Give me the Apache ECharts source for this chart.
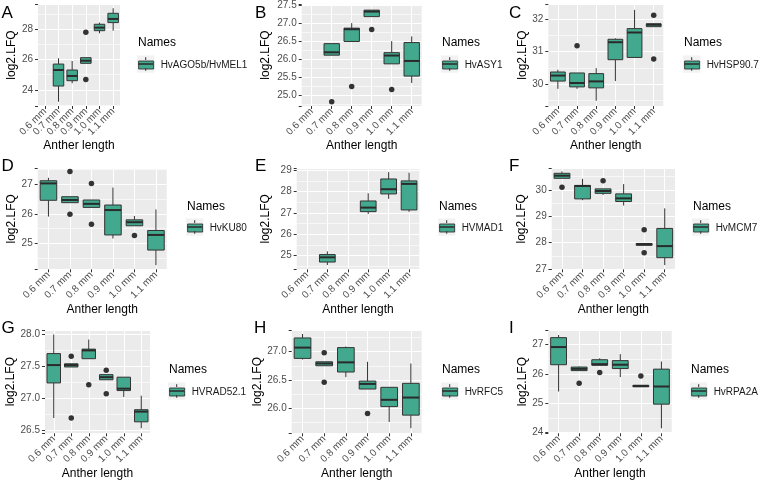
<!DOCTYPE html>
<html>
<head>
<meta charset="utf-8">
<script src="https://cdn.jsdelivr.net/npm/echarts@6/dist/echarts.min.js"></script>
<style>
  html, body { margin: 0; padding: 0; background: #fff; }
  #main { width: 763px; height: 483px; }
</style>
</head>
<body>
<div id="main"></div>
<script>
var categories = ['0.6 mm', '0.7 mm', '0.8 mm', '0.9 mm', '1.0 mm', '1.1 mm'];
var genes = ['HvAGO5b/HvMEL1', 'HvASY1', 'HvHSP90.7', 'HvKU80', 'HVMAD1', 'HvMCM7', 'HVRAD52.1', 'HvRFC5', 'HvRPA2A'];

// box stats: [category index, lower whisker, Q1, median, Q3, upper whisker]
var boxA = [[1, 23.23, 24.26, 25.31, 25.70, 26.08], [2, 24.44, 24.61, 24.92, 25.31, 25.90], [3, 25.75, 25.75, 25.92, 26.12, 26.12], [4, 27.72, 27.89, 28.09, 28.31, 28.42], [5, 27.89, 28.42, 28.66, 29.03, 29.36]];
var outA = [[3, 27.78], [3, 24.68]];
var boxB = [[1, 26.12, 26.12, 26.20, 26.44, 26.44], [2, 26.50, 26.50, 26.84, 26.87, 27.01], [3, 27.19, 27.19, 27.33, 27.37, 27.37], [4, 25.88, 25.88, 26.11, 26.19, 26.51], [5, 25.35, 25.54, 25.96, 26.47, 26.64]];
var outB = [[1, 24.83], [2, 25.25], [3, 26.83], [4, 25.17]];
var boxC = [[0, 29.85, 30.09, 30.26, 30.37, 30.44], [1, 29.85, 29.91, 30.03, 30.34, 30.34], [2, 29.48, 29.88, 30.08, 30.32, 30.49], [3, 30.09, 30.75, 31.29, 31.38, 31.41], [4, 30.82, 30.82, 31.59, 31.71, 32.29], [5, 31.77, 31.77, 31.83, 31.86, 31.86]];
var outC = [[1, 31.18], [5, 32.12], [5, 30.77]];
var boxD = [[0, 25.91, 26.46, 27.03, 27.12, 27.22], [1, 26.38, 26.38, 26.47, 26.58, 26.58], [2, 26.22, 26.22, 26.34, 26.47, 26.47], [3, 25.17, 25.29, 26.13, 26.30, 26.89], [4, 25.60, 25.60, 25.72, 25.80, 25.93], [5, 24.27, 24.78, 25.29, 25.44, 26.15]];
var outD = [[1, 27.43], [1, 25.99], [2, 27.03], [2, 25.65], [4, 25.27]];
var boxE = [[1, 24.56, 24.70, 24.92, 25.05, 25.20], [3, 26.95, 27.06, 27.25, 27.56, 27.92], [4, 27.66, 27.89, 28.11, 28.59, 28.91], [5, 27.05, 27.14, 28.36, 28.50, 28.88]];
var outE = [];
var boxF = [[0, 30.44, 30.44, 30.54, 30.63, 30.70], [1, 29.61, 29.66, 30.15, 30.17, 30.42], [2, 29.81, 29.87, 29.96, 30.04, 30.04], [3, 29.41, 29.56, 29.68, 29.85, 30.22], [4, 27.90, 27.90, 27.94, 27.97, 27.97], [5, 27.15, 27.43, 27.87, 28.54, 29.30]];
var outF = [[0, 30.10], [2, 30.35], [4, 28.49], [4, 27.62]];
var boxG = [[0, 26.69, 27.24, 27.52, 27.70, 28.00], [1, 27.49, 27.49, 27.52, 27.54, 27.54], [2, 27.62, 27.62, 27.75, 27.77, 27.92], [3, 27.29, 27.29, 27.33, 27.37, 27.37], [4, 27.02, 27.12, 27.15, 27.33, 27.33], [5, 26.53, 26.63, 26.79, 26.82, 27.04]];
var outG = [[1, 27.66], [1, 26.69], [2, 27.21], [3, 27.44], [3, 27.07]];
var boxH = [[0, 26.86, 26.88, 27.07, 27.24, 27.31], [1, 26.75, 26.75, 26.79, 26.82, 26.82], [2, 26.55, 26.64, 26.81, 27.07, 27.09], [3, 26.34, 26.34, 26.43, 26.48, 26.82], [4, 25.76, 26.03, 26.15, 26.37, 26.37], [5, 25.65, 25.88, 26.19, 26.44, 26.79]];
var outH = [[1, 26.98], [1, 26.46], [3, 25.91]];
var boxI = [[0, 25.40, 26.31, 26.91, 27.23, 27.32], [1, 26.11, 26.11, 26.17, 26.23, 26.25], [2, 26.29, 26.29, 26.33, 26.48, 26.53], [3, 25.89, 26.18, 26.31, 26.45, 26.67], [4, 25.56, 25.56, 25.59, 25.61, 25.61], [5, 24.15, 24.97, 25.57, 26.16, 26.42]];
var outI = [[1, 25.68], [2, 26.05], [4, 25.93]];

// y tick labels of each panel
var ticksA = [24, 26, 28];
var ticksB = [25.0, 25.5, 26.0, 26.5, 27.0, 27.5];
var ticksC = [30, 31, 32];
var ticksD = [25, 26, 27];
var ticksE = [25, 26, 27, 28, 29];
var ticksF = [27, 28, 29, 30];
var ticksG = [26.5, 27.0, 27.5, 28.0];
var ticksH = [26.0, 26.5, 27.0];
var ticksI = [24, 25, 26, 27];

var FONT = '"Liberation Sans", Arial, sans-serif';
var TEAL = '#43a98e';
var DARK = '#333333';

// layout of each panel (grid box, y range, label gaps, legend spot)
var panels = [
  {letter: 'A', box: boxA, out: outA, ticks: ticksA, dec: 0, min: 22.95, max: 29.64, split: 3, g: [38, 4, 82, 102], gap: 19, lx: 1.5, kx: 137, row: 0},
  {letter: 'B', box: boxB, out: outB, ticks: ticksB, dec: 1, min: 24.71, max: 27.54, split: 6, g: [301.7, 4, 120, 102], gap: 30, lx: 255, kx: 441, row: 0},
  {letter: 'C', box: boxC, out: outC, ticks: ticksC, dec: 0, min: 29.32, max: 32.47, split: 3, g: [548.3, 4, 115, 102], gap: 20, lx: 509, kx: 683, row: 0},
  {letter: 'D', box: boxD, out: outD, ticks: ticksD, dec: 0, min: 24.13, max: 27.54, split: 3, g: [37.7, 168.3, 129, 101], gap: 20, lx: 1.5, kx: 186, row: 1},
  {letter: 'E', box: boxE, out: outE, ticks: ticksE, dec: 0, min: 24.36, max: 29.09, split: 4, g: [296.7, 168.3, 122.6, 101], gap: 25, lx: 255, kx: 438, row: 1},
  {letter: 'F', box: boxF, out: outF, ticks: ticksF, dec: 0, min: 26.99, max: 30.82, split: 3, g: [551.7, 168.3, 123.3, 101], gap: 24, lx: 509, kx: 692, row: 1},
  {letter: 'G', box: boxG, out: outG, ticks: ticksG, dec: 1, min: 26.45, max: 28.07, split: 3, g: [45, 330, 105, 103.3], gap: 28, lx: 1.5, kx: 168, row: 2},
  {letter: 'H', box: boxH, out: outH, ticks: ticksH, dec: 1, min: 25.56, max: 27.38, split: 3, g: [291.7, 330, 130, 103.3], gap: 19, lx: 254, kx: 441, row: 2},
  {letter: 'I', box: boxI, out: outI, ticks: ticksI, dec: 0, min: 23.98, max: 27.49, split: 3, g: [548.3, 330, 123.4, 103.3], gap: 20, lx: 509, kx: 690, row: 2}
];
var rowLetterY = [13, 166, 328];
var rowTitleY = [43, 206.7, 370];
var rowKeyY = [64, 227, 391];

function renderBox(params, api) {
  var x = api.value(0);
  var lo = api.coord([x, api.value(1)]);
  var q1 = api.coord([x, api.value(2)]);
  var med = api.coord([x, api.value(3)]);
  var q3 = api.coord([x, api.value(4)]);
  var hi = api.coord([x, api.value(5)]);
  var half = api.size([1, 0])[0] * 0.385;
  var cx = q1[0];
  return {
    type: 'group',
    children: [
      {type: 'line', shape: {x1: cx, y1: hi[1], x2: cx, y2: q3[1]}, style: {stroke: DARK, lineWidth: 1}},
      {type: 'line', shape: {x1: cx, y1: q1[1], x2: cx, y2: lo[1]}, style: {stroke: DARK, lineWidth: 1}},
      {type: 'rect', shape: {x: cx - half, y: q3[1], width: half * 2, height: q1[1] - q3[1]}, style: {fill: TEAL, stroke: DARK, lineWidth: 1}},
      {type: 'line', shape: {x1: cx - half, y1: med[1], x2: cx + half, y2: med[1]}, style: {stroke: '#2a2a2a', lineWidth: 2}}
    ]
  };
}

function tickFormatter(ticks, dec) {
  return function (v) {
    for (var i = 0; i < ticks.length; i++) {
      if (Math.abs(v - ticks[i]) < 1e-6) return ticks[i].toFixed(dec);
    }
    return '';
  };
}

var grids = [], xAxes = [], yAxes = [], series = [], legends = [], graphics = [];

panels.forEach(function (p, i) {
  var gene = genes[i];
  grids.push({left: p.g[0], top: p.g[1], width: p.g[2], height: p.g[3], show: true, backgroundColor: '#EBEBEB', borderWidth: 0});
  xAxes.push({
    type: 'category', gridIndex: i, data: categories, boundaryGap: true,
    name: 'Anther length', nameLocation: 'middle', nameGap: 34,
    nameTextStyle: {fontSize: 12, color: '#000', fontFamily: FONT},
    axisLine: {show: false},
    axisTick: {show: true, alignWithLabel: true, length: 3, lineStyle: {color: DARK}},
    axisLabel: {interval: 0, rotate: 45, fontSize: 10, color: '#4D4D4D', fontFamily: FONT, margin: 4},
    splitLine: {show: true, alignWithLabel: true, lineStyle: {color: '#fff', width: 1.1}}
  });
  yAxes.push({
    type: 'value', gridIndex: i, min: p.min, max: p.max, splitNumber: p.split,
    name: 'log2.LFQ', nameLocation: 'middle', nameGap: p.gap,
    nameTextStyle: {fontSize: 12, color: '#000', fontFamily: FONT},
    axisLine: {show: false},
    axisTick: {show: true, length: 3, lineStyle: {color: DARK}},
    axisLabel: {fontSize: 10, color: '#4D4D4D', fontFamily: FONT, margin: 5, formatter: tickFormatter(p.ticks, p.dec)},
    splitLine: {show: true, lineStyle: {color: '#fff', width: 1.1}},
    minorTick: {show: false, splitNumber: 2},
    minorSplitLine: {show: true, lineStyle: {color: '#fff', width: 0.6}}
  });
  series.push({
    name: gene, type: 'custom', xAxisIndex: i, yAxisIndex: i,
    encode: {x: 0, y: [1, 2, 3, 4, 5]},
    itemStyle: {color: TEAL},
    renderItem: renderBox,
    data: p.box
  });
  series.push({
    name: gene + ' outliers', type: 'scatter', xAxisIndex: i, yAxisIndex: i,
    symbolSize: 5.5, itemStyle: {color: DARK, opacity: 1}, z: 5,
    data: p.out
  });

  var ky = rowKeyY[p.row];
  legends.push({
    data: [gene], left: p.kx + 1.2, top: ky - 4, padding: 0, icon: 'rect',
    itemWidth: 15, itemHeight: 8, selectedMode: false,
    itemStyle: {borderColor: DARK, borderWidth: 0.9},
    textStyle: {fontSize: 10, color: '#1a1a1a', fontFamily: FONT, padding: [0, 0, 0, 2]}
  });

  graphics.push({type: 'text', x: p.lx, y: rowLetterY[p.row], style: {text: p.letter, fontSize: 17, fontFamily: FONT, fill: '#000', verticalAlign: 'middle'}});
  graphics.push({type: 'text', x: p.kx + 1, y: rowTitleY[p.row], style: {text: 'Names', fontSize: 12, fontFamily: FONT, fill: '#000', verticalAlign: 'middle'}});
  graphics.push({type: 'rect', z: 0, shape: {x: p.kx, y: ky - 8.6, width: 17.3, height: 17.3}, style: {fill: '#F2F2F2'}});
  graphics.push({type: 'line', z: 100, shape: {x1: p.kx + 8.7, y1: ky - 6.8, x2: p.kx + 8.7, y2: ky - 4}, style: {stroke: DARK, lineWidth: 1}});
  graphics.push({type: 'line', z: 100, shape: {x1: p.kx + 8.7, y1: ky + 4, x2: p.kx + 8.7, y2: ky + 6.8}, style: {stroke: DARK, lineWidth: 1}});
  graphics.push({type: 'line', z: 100, shape: {x1: p.kx + 1.2, y1: ky, x2: p.kx + 16.2, y2: ky}, style: {stroke: '#2a2a2a', lineWidth: 1.5}});
});

var chart = echarts.init(document.getElementById('main'));
chart.setOption({
  animation: false,
  backgroundColor: '#fff',
  grid: grids,
  xAxis: xAxes,
  yAxis: yAxes,
  legend: legends,
  graphic: graphics,
  series: series
});
</script>
</body>
</html>
